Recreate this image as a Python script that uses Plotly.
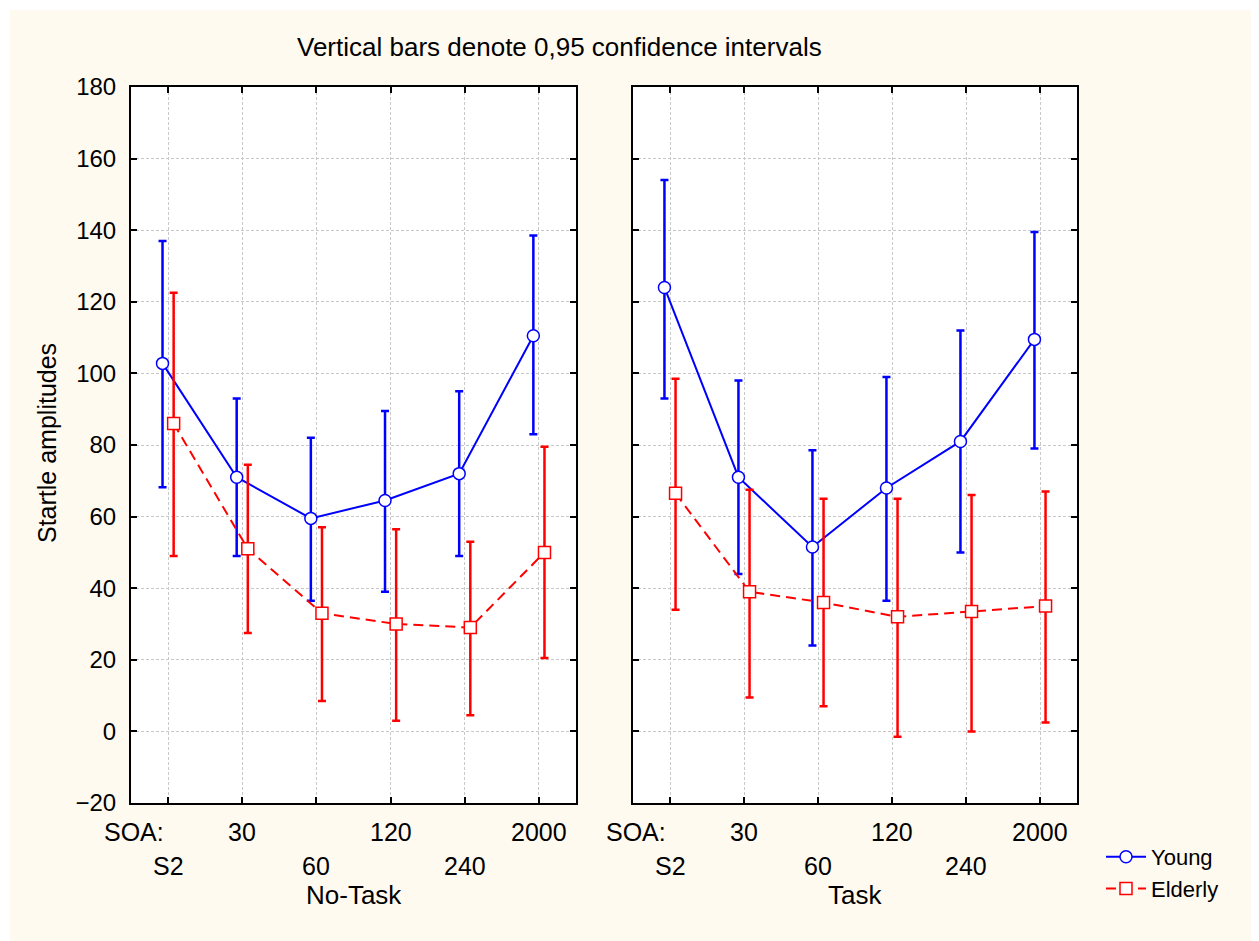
import numpy as np
import plotly.graph_objects as go

# categories (SOA) and the two panels
soa_labels = ["S2", "30", "60", "120", "240", "2000"]
panels = ["No-Task", "Task"]

# means and 0.95 CI limits
young_notask = [102.8, 71.0, 59.5, 64.5, 72.0, 110.5]
young_notask_hi = [137.0, 93.0, 82.0, 89.5, 95.0, 138.5]
young_notask_lo = [68.2, 49.0, 36.5, 39.0, 49.0, 83.0]

elderly_notask = [86.0, 51.0, 33.0, 30.0, 29.0, 50.0]
elderly_notask_hi = [122.5, 74.5, 57.0, 56.5, 53.0, 79.5]
elderly_notask_lo = [49.0, 27.5, 8.5, 3.0, 4.5, 20.5]

young_task = [124.0, 71.0, 51.5, 68.0, 81.0, 109.5]
young_task_hi = [154.0, 98.0, 78.5, 99.0, 112.0, 139.5]
young_task_lo = [93.0, 44.0, 24.0, 36.5, 50.0, 79.0]

elderly_task = [66.5, 39.0, 36.0, 32.0, 33.5, 35.0]
elderly_task_hi = [98.5, 67.5, 65.0, 65.0, 66.0, 67.0]
elderly_task_lo = [34.0, 9.5, 7.0, -1.5, 0.0, 2.5]

# page body adds an 8px margin, so the figure is a bit smaller than the window
W, H = 1251, 933
BG = "#FFFAF0"
BLUE = "#0000FF"
RED = "#FF0000"
FONT = "Liberation Sans, Arial, sans-serif"

def px_x(p):
    return p / W

def px_y(p):
    return 1 - p / H

fig = go.Figure()

idx = np.arange(len(soa_labels))
groups = [
    ("Young", BLUE, "solid", "circle", -0.075,
     [(young_notask, young_notask_hi, young_notask_lo), (young_task, young_task_hi, young_task_lo)]),
    ("Elderly", RED, "10px,6px", "square", 0.075,
     [(elderly_notask, elderly_notask_hi, elderly_notask_lo), (elderly_task, elderly_task_hi, elderly_task_lo)]),
]

for name, col, dash, sym, off, series in groups:
    for k, (m, hi, lo) in enumerate(series):
        m = np.array(m); hi = np.array(hi); lo = np.array(lo)
        fig.add_trace(go.Scatter(
            x=idx + off, y=m, name=name, legendgroup=name, showlegend=(k == 0),
            mode="lines+markers",
            line=dict(color=col, width=2, dash=dash),
            marker=dict(symbol=sym, size=12, color="white", line=dict(width=1.5, color=col)),
            error_y=dict(type="data", symmetric=False, array=hi - m, arrayminus=m - lo,
                         color=col, thickness=2.5, width=4),
            xaxis="x" if k == 0 else "x2", yaxis="y" if k == 0 else "y2",
        ))

x_doms = [[px_x(123), px_x(568)], [px_x(625), px_x(1069)]]
y_dom = [px_y(795), px_y(79)]

axis_common = dict(
    range=[-0.5, 5.5], tickvals=list(idx), ticktext=["" for _ in idx],
    showline=True, linecolor="black", linewidth=2, mirror="ticks",
    ticks="inside", ticklen=6, tickwidth=2, tickcolor="black",
    showgrid=True, gridcolor="#c8c8c8", griddash="3px,2px", gridwidth=1,
    zeroline=False,
)
yaxis_common = dict(
    range=[-20, 180], dtick=20, tick0=0,
    showline=True, linecolor="black", linewidth=2, mirror="ticks",
    ticks="inside", ticklen=6, tickwidth=2, tickcolor="black",
    showgrid=True, gridcolor="#c8c8c8", griddash="3px,2px", gridwidth=1,
    zeroline=False, domain=y_dom,
    tickfont=dict(family=FONT, size=24, color="black"),
)

fig.update_layout(
    width=W, height=H,
    paper_bgcolor=BG, plot_bgcolor="white",
    margin=dict(l=0, r=0, t=0, b=0, autoexpand=False),
    font=dict(family=FONT, size=24, color="black"),
    xaxis=dict(axis_common, domain=x_doms[0], anchor="y"),
    xaxis2=dict(axis_common, domain=x_doms[1], anchor="y2"),
    yaxis=dict(yaxis_common, anchor="x", ticklabelstandoff=8),
    yaxis2=dict(yaxis_common, anchor="x2", showticklabels=False),
    showlegend=True,
    legend=dict(x=px_x(1093), y=px_y(828), xanchor="left", yanchor="top",
                bgcolor="rgba(0,0,0,0)", font=dict(family=FONT, size=22),
                itemwidth=40, tracegroupgap=0),
)

# thin white strips along the top and left edge of the picture
fig.add_shape(type="rect", xref="paper", yref="paper", x0=0, x1=px_x(2), y0=0, y1=1,
              fillcolor="white", line_width=0, layer="below")
fig.add_shape(type="rect", xref="paper", yref="paper", x0=0, x1=1, y0=px_y(2), y1=1,
              fillcolor="white", line_width=0, layer="below")

txt = dict(showarrow=False, xanchor="center", yanchor="middle")
ann = []
ann.append(dict(txt, text="Vertical bars denote 0,95 confidence intervals", xref="paper", yref="paper",
                x=px_x(551), y=px_y(39), font=dict(size=26)))
ann.append(dict(txt, text="Startle amplitudes", xref="paper", yref="paper", textangle=-90,
                x=px_x(39), y=px_y(435), font=dict(size=25)))
for k, (xr, pname) in enumerate(zip(["x", "x2"], panels)):
    ann.append(dict(txt, text="SOA:", xref=xr, yref="paper", x=-0.46, y=px_y(824),
                    font=dict(size=25)))
    for i, lab in enumerate(soa_labels):
        row_y = 824 if i % 2 == 1 else 858
        ann.append(dict(txt, text=lab, xref=xr, yref="paper", x=i, y=px_y(row_y),
                        font=dict(size=25)))
    ann.append(dict(txt, text=pname, xref="paper", yref="paper",
                    x=sum(x_doms[k]) / 2, y=px_y(887), font=dict(size=26)))
fig.update_layout(annotations=ann)

fig.write_html("out.html")
